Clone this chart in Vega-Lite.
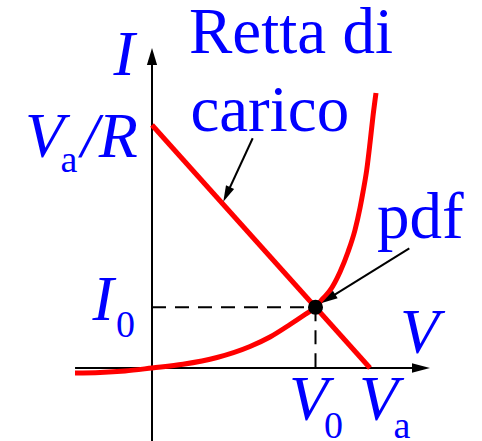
{
  "$schema": "https://vega.github.io/schema/vega-lite/v6.json",
  "width": 482,
  "height": 441,
  "padding": 0,
  "autosize": {"type": "none"},
  "background": "white",
  "config": {"view": {"stroke": null}},
  "datasets": {
    "axes": [
      {"v": 0, "i": -3.1, "v2": 0, "i2": 12.6},
      {"v": -3.53, "i": 0, "v2": 12.11, "i2": 0}
    ],
    "guides": [
      {"v": 0, "i": 2.5, "v2": 7.5, "i2": 2.5},
      {"v": 7.5, "i": 2.5, "v2": 7.5, "i2": 0}
    ],
    "diode": [
      {"v": -3.532, "i": -0.206},
      {"v": -2.385, "i": -0.185},
      {"v": -1.239, "i": -0.123},
      {"v": 0, "i": 0},
      {"v": 1.422, "i": 0.152},
      {"v": 2.982, "i": 0.432},
      {"v": 4.495, "i": 0.885},
      {"v": 5.413, "i": 1.276},
      {"v": 6.33, "i": 1.79},
      {"v": 7.018, "i": 2.202},
      {"v": 7.5, "i": 2.5},
      {"v": 7.844, "i": 2.86},
      {"v": 8.165, "i": 3.189},
      {"v": 8.624, "i": 3.951},
      {"v": 8.991, "i": 4.774},
      {"v": 9.312, "i": 5.679},
      {"v": 9.541, "i": 6.584},
      {"v": 9.679, "i": 7.243},
      {"v": 9.849, "i": 8.148},
      {"v": 10.0, "i": 9.259},
      {"v": 10.138, "i": 10.37},
      {"v": 10.275, "i": 11.317}
    ],
    "load": [
      {"v": 0, "i": 10},
      {"v": 10, "i": 0}
    ],
    "pointers": [
      {"v": 4.619, "i": 9.453, "v2": 3.541, "i2": 7.366},
      {"v": 11.803, "i": 4.926, "v2": 8.33, "i2": 2.992}
    ],
    "qpoint": [{"v": 7.5, "i": 2.5}],
    "symbols": [
      {"t": "I", "v": -1.766, "i": 12.058},
      {"t": "V", "v": -5.826, "i": 8.683},
      {"t": "/R", "v": -3.257, "i": 8.683},
      {"t": "I", "v": -2.729, "i": 1.975},
      {"t": "V", "v": 6.284, "i": -2.14},
      {"t": "V", "v": 9.495, "i": -2.14},
      {"t": "V", "v": 11.376, "i": 0.617}
    ],
    "subscripts": [
      {"t": "a", "v": -4.193, "i": 8.066},
      {"t": "0", "v": -1.651, "i": 1.276},
      {"t": "0", "v": 7.89, "i": -2.881},
      {"t": "a", "v": 11.083, "i": -2.881}
    ],
    "captions": [
      {"t": "Retta di", "v": 1.697, "i": 12.963},
      {"t": "carico", "v": 1.761, "i": 9.753},
      {"t": "pdf", "v": 10.321, "i": 5.35}
    ]
  },
  "encoding": {
    "x": {"field": "v", "type": "quantitative", "scale": {"domain": [-6.9725, 15.1376], "nice": false, "zero": false}, "axis": null},
    "y": {"field": "i", "type": "quantitative", "scale": {"domain": [-3.0041, 15.144], "nice": false, "zero": false}, "axis": null}
  },
  "layer": [
    {
      "data": {"name": "axes"},
      "mark": {"type": "rule", "color": "black", "strokeWidth": 2},
      "encoding": {"x2": {"field": "v2"}, "y2": {"field": "i2"}}
    },
    {
      "data": {"values": [{"v": 0, "i": 13.169}]},
      "mark": {"type": "point", "shape": "M0,0L0.3,1L-0.3,1Z", "filled": true, "color": "black", "opacity": 1, "size": 1156, "angle": 0, "strokeWidth": 0}
    },
    {
      "data": {"values": [{"v": 12.752, "i": 0}]},
      "mark": {"type": "point", "shape": "M0,0L0.27,1L-0.27,1Z", "filled": true, "color": "black", "opacity": 1, "size": 1296, "angle": 90, "strokeWidth": 0}
    },
    {
      "data": {"name": "guides"},
      "mark": {"type": "rule", "color": "black", "strokeWidth": 2, "strokeDash": [14, 9]},
      "encoding": {"x2": {"field": "v2"}, "y2": {"field": "i2"}}
    },
    {
      "data": {"name": "diode"},
      "mark": {"type": "line", "color": "#ff0000", "strokeWidth": 5, "interpolate": "monotone", "strokeCap": "butt"}
    },
    {
      "data": {"name": "load"},
      "mark": {"type": "line", "color": "#ff0000", "strokeWidth": 5, "strokeCap": "butt"}
    },
    {
      "data": {"name": "pointers"},
      "mark": {"type": "rule", "color": "black", "strokeWidth": 2},
      "encoding": {"x2": {"field": "v2"}, "y2": {"field": "i2"}}
    },
    {
      "data": {"values": [{"v": 3.271, "i": 6.844}]},
      "mark": {"type": "point", "shape": "M0,0L0.28,1L-0.28,1Z", "filled": true, "color": "black", "opacity": 1, "size": 1024, "angle": 204.9, "strokeWidth": 0}
    },
    {
      "data": {"values": [{"v": 7.784, "i": 2.675}]},
      "mark": {"type": "point", "shape": "M0,0L0.28,1L-0.28,1Z", "filled": true, "color": "black", "opacity": 1, "size": 1024, "angle": 238.2, "strokeWidth": 0}
    },
    {
      "data": {"name": "qpoint"},
      "mark": {"type": "point", "shape": "circle", "filled": true, "color": "black", "opacity": 1, "size": 227, "strokeWidth": 0}
    },
    {
      "data": {"name": "symbols"},
      "mark": {"type": "text", "font": "Liberation Serif", "fontStyle": "italic", "fontSize": 64, "color": "#0000ff", "align": "left", "baseline": "alphabetic"},
      "encoding": {"text": {"field": "t"}}
    },
    {
      "data": {"name": "subscripts"},
      "mark": {"type": "text", "font": "Liberation Serif", "fontSize": 38, "color": "#0000ff", "align": "left", "baseline": "alphabetic"},
      "encoding": {"text": {"field": "t"}}
    },
    {
      "data": {"name": "captions"},
      "mark": {"type": "text", "font": "Liberation Serif", "fontSize": 65, "color": "#0000ff", "align": "left", "baseline": "alphabetic"},
      "encoding": {"text": {"field": "t"}}
    }
  ]
}
